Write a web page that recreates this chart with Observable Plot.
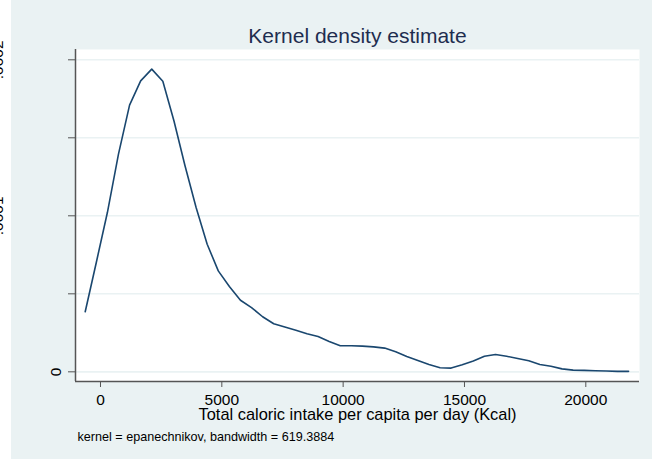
<!DOCTYPE html>
<html>
<head>
<meta charset="utf-8">
<script src="https://cdn.jsdelivr.net/npm/d3@7"></script>
<script src="https://cdn.jsdelivr.net/npm/@observablehq/plot@0.6"></script>
<style>
  html, body { margin: 0; padding: 0; background: #ffffff; }
  #chart { width: 652px; height: 459px; background: linear-gradient(to right, #ffffff 11px, #eaf2f3 11px); }
  #chart svg { display: block; }
</style>
</head>
<body>
<div id="chart"></div>
<script>
// Evaluation points (Kcal) of the kernel density estimate
const kcal = [-630, -173, 284, 741, 1198, 1655, 2112, 2569, 3026, 3483,
  3940, 4397, 4854, 5311, 5768, 6225, 6682, 7139, 7596, 8053,
  8510, 8967, 9424, 9881, 10338, 10795, 11252, 11709, 12166, 12623,
  13080, 13537, 13994, 14451, 14908, 15365, 15822, 16279, 16736, 17193,
  17650, 18107, 18564, 19021, 19478, 19935, 20392, 20849, 21306, 21763];
// Density values
const density = [3.85e-5, 7.01e-5, 1.021e-4, 1.395e-4, 1.709e-4, 1.865e-4, 1.940e-4, 1.863e-4, 1.609e-4, 1.321e-4,
  1.053e-4, 8.18e-5, 6.47e-5, 5.47e-5, 4.59e-5, 4.12e-5, 3.53e-5, 3.08e-5, 2.87e-5, 2.67e-5,
  2.44e-5, 2.27e-5, 1.95e-5, 1.67e-5, 1.67e-5, 1.65e-5, 1.60e-5, 1.52e-5, 1.28e-5, 9.8e-6,
  7.2e-6, 4.7e-6, 2.6e-6, 2.4e-6, 4.5e-6, 6.9e-6, 1.00e-5, 1.11e-5, 1.00e-5, 8.5e-6,
  7.1e-6, 4.7e-6, 3.6e-6, 1.9e-6, 1.1e-6, 9e-7, 6.5e-7, 5e-7, 3e-7, 3e-7];

const xTicks = [0, 5000, 10000, 15000, 20000];
const yTicks = [0, 0.00005, 0.0001, 0.00015, 0.0002];
const yZeroLabel = [{v: 0, t: "0"}];
const yOtherLabels = [{v: 0.0001, t: ".0001"}, {v: 0.0002, t: ".0002"}];

const titleText = "Kernel density estimate";
const xLabelText = "Total caloric intake per capita per day (Kcal)";
const captionText = "kernel = epanechnikov, bandwidth = 619.3884";

const xDomain = [-1030, 22213];
const yDomain = [-0.0000062, 0.0002066];

const font = "'Liberation Sans', Arial, Helvetica, sans-serif";
const idx = d3.range(kcal.length);

const chart = Plot.plot({
  width: 652,
  height: 459,
  marginLeft: 75,
  marginRight: 13,
  marginTop: 49,
  marginBottom: 78,
  style: {
    fontFamily: font,
    background: "linear-gradient(to right, #ffffff 11px, #eaf2f3 11px)",
    overflow: "visible"
  },
  x: { domain: xDomain, axis: null },
  y: { domain: yDomain, axis: null },
  marks: [
    Plot.frame({ fill: "#ffffff", stroke: "none" }),
    Plot.gridY(yTicks, { stroke: "#eaf2f3", strokeOpacity: 1, strokeWidth: 1.6 }),
    Plot.line(idx, { x: i => kcal[i], y: i => density[i], stroke: "#1a476f", strokeWidth: 1.6 }),
    Plot.ruleX([xDomain[0]], { stroke: "#555555", strokeWidth: 1.5 }),
    Plot.ruleY([yDomain[0]], { stroke: "#555555", strokeWidth: 1.5 }),
    Plot.axisX(xTicks, { tickSize: 6, tickPadding: 6, fontSize: 15.5, stroke: "#555555", fill: "#000000", tickFormat: d => String(d), label: null }),
    Plot.axisY(yTicks, { tickSize: 7, stroke: "#555555", tickFormat: () => "", label: null }),
    Plot.text(yZeroLabel, { y: "v", text: "t", frameAnchor: "left", textAnchor: "middle", lineAnchor: "middle", dx: -19, rotate: -90, fontSize: 15.5, fill: "#000000" }),
    Plot.text(yOtherLabels, { y: "v", text: "t", frameAnchor: "left", textAnchor: "middle", lineAnchor: "middle", dx: -77, rotate: -90, fontSize: 15.5, fill: "#000000" }),
    Plot.text([titleText], { frameAnchor: "top", lineAnchor: "middle", dy: -13.7, fontSize: 21, fill: "#1e2d4f" }),
    Plot.text([xLabelText], { frameAnchor: "bottom", lineAnchor: "middle", dy: 33.6, fontSize: 16.4, fill: "#000000" }),
    Plot.text([captionText], { frameAnchor: "bottom-left", textAnchor: "start", lineAnchor: "middle", dx: 2, dy: 55, fontSize: 12.6, fill: "#000000" })
  ]
});
document.getElementById("chart").appendChild(chart);
</script>
</body>
</html>
